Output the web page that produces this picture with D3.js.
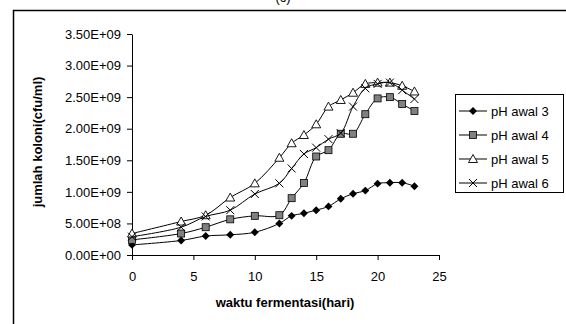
<!DOCTYPE html>
<html>
<head>
<meta charset="utf-8">
<script src="https://cdn.jsdelivr.net/npm/d3@7"></script>
<style>
  body { margin: 0; background: #fff; }
  svg { display: block; font-family: "Liberation Sans", Arial, sans-serif; }
</style>
</head>
<body>
<svg id="chart" width="566" height="324"></svg>
<script>
// hari (days)
var days = [0, 4, 6, 8, 10, 12, 13, 14, 15, 16, 17, 18, 19, 20, 21, 22, 23];
// jumlah koloni, in units of 1e9 cfu/ml
var ph3 = [0.16, 0.23, 0.30, 0.32, 0.36, 0.50, 0.62, 0.66, 0.71, 0.77, 0.89, 0.97, 1.02, 1.13, 1.145, 1.145, 1.09];
var ph4 = [0.24, 0.34, 0.44, 0.565, 0.62, 0.63, 0.90, 1.14, 1.56, 1.66, 1.92, 1.92, 2.23, 2.48, 2.50, 2.39, 2.28];
var ph5 = [0.34, 0.53, 0.63, 0.91, 1.135, 1.54, 1.77, 1.90, 2.07, 2.35, 2.455, 2.57, 2.71, 2.73, 2.73, 2.68, 2.59];
var ph6 = [0.29, 0.44, 0.61, 0.71, 0.966, 1.135, 1.37, 1.60, 1.70, 1.835, 1.93, 2.35, 2.64, 2.71, 2.73, 2.61, 2.47];
var seriesNames = ["pH awal 3", "pH awal 4", "pH awal 5", "pH awal 6"];
var yTicks = [0, 0.5e9, 1e9, 1.5e9, 2e9, 2.5e9, 3e9, 3.5e9];
var xTicks = [0, 5, 10, 15, 20, 25];

var svg = d3.select("#chart");

// outer frame (left + top only visible)
svg.append("path")
  .attr("d", "M13.5,324 V10.5 H566")
  .attr("fill", "none").attr("stroke", "#000").attr("stroke-width", 1.5);

// clipped title at the very top
svg.append("text").attr("x", 283).attr("y", 2)
  .attr("text-anchor", "middle").style("font-size", "13px").text("(c)");

var x = d3.scaleLinear().domain([0, 25]).range([132, 439]);
var y = d3.scaleLinear().domain([0, 3.5e9]).range([255, 34]);

// axes
var xAxis = svg.append("g").attr("transform", "translate(0,255)")
  .call(d3.axisBottom(x).tickValues(xTicks).tickSize(5).tickSizeOuter(0).tickPadding(12));
var yAxis = svg.append("g").attr("transform", "translate(132,0)")
  .call(d3.axisLeft(y).tickValues(yTicks).tickSize(5).tickSizeOuter(0).tickPadding(6)
    .tickFormat(function (d) {
      if (d === 0) return "0.00E+00";
      var e = Math.floor(Math.log10(d));
      var m = d / Math.pow(10, e);
      return m.toFixed(2) + "E+" + (e < 10 ? "0" + e : e);
    }));
[xAxis, yAxis].forEach(function (g) {
  g.selectAll("path, line").attr("stroke", "#000");
  g.selectAll("text").style("font-size", "13px").style("font-family", "Liberation Sans, Arial, sans-serif").attr("fill", "#000");
});

// axis titles
svg.append("text").attr("x", 285).attr("y", 307)
  .attr("text-anchor", "middle").style("font-size", "13px").style("font-weight", "bold")
  .text("waktu fermentasi(hari)");
svg.append("text").attr("transform", "translate(42,142) rotate(-90)")
  .attr("text-anchor", "middle").style("font-size", "13px").style("font-weight", "bold")
  .text("jumlah koloni(cfu/ml)");

var allSeries = [ph3, ph4, ph5, ph6];
var line = d3.line()
  .x(function (d) { return x(d.x); })
  .y(function (d) { return y(d.y); })
  .curve(d3.curveCatmullRom.alpha(0.5));

function drawMarker(g, type, cx, cy) {
  if (type === 0) {
    g.append("path").attr("d", d3.symbol().type(d3.symbolDiamond2).size(40)())
      .attr("transform", "translate(" + cx + "," + cy + ")").attr("fill", "#000");
  } else if (type === 1) {
    g.append("rect").attr("x", cx - 3.5).attr("y", cy - 3.5).attr("width", 7).attr("height", 7)
      .attr("fill", "#808080").attr("stroke", "#000").attr("stroke-width", 0.8);
  } else if (type === 2) {
    g.append("path").attr("d", "M" + cx + "," + (cy - 4.5) + " L" + (cx + 4.5) + "," + (cy + 3.5) + " L" + (cx - 4.5) + "," + (cy + 3.5) + " Z")
      .attr("fill", "#fff").attr("stroke", "#000").attr("stroke-width", 0.9);
  } else {
    g.append("path").attr("d", "M" + (cx - 4) + "," + (cy - 4) + " L" + (cx + 4) + "," + (cy + 4) + " M" + (cx - 4) + "," + (cy + 4) + " L" + (cx + 4) + "," + (cy - 4))
      .attr("stroke", "#000").attr("stroke-width", 1).attr("fill", "none");
  }
}

allSeries.forEach(function (vals, si) {
  var data = days.map(function (d, i) { return { x: d, y: vals[i] * 1e9 }; });
  var g = svg.append("g");
  g.append("path").datum(data).attr("d", line)
    .attr("fill", "none").attr("stroke", "#000").attr("stroke-width", 1);
  data.forEach(function (p) { drawMarker(g, si, x(p.x), y(p.y)); });
});

// legend
var leg = svg.append("g");
leg.append("rect").attr("x", 455.5).attr("y", 94.5).attr("width", 108).attr("height", 98)
  .attr("fill", "#fff").attr("stroke", "#000").attr("stroke-width", 1);
seriesNames.forEach(function (name, i) {
  var ly = 111 + i * 24;
  leg.append("line").attr("x1", 459).attr("x2", 487).attr("y1", ly).attr("y2", ly)
    .attr("stroke", "#000").attr("stroke-width", 1);
  drawMarker(leg, i, 473, ly);
  leg.append("text").attr("x", 491).attr("y", ly + 5).style("font-size", "13px").text(name);
});
</script>
</body>
</html>
